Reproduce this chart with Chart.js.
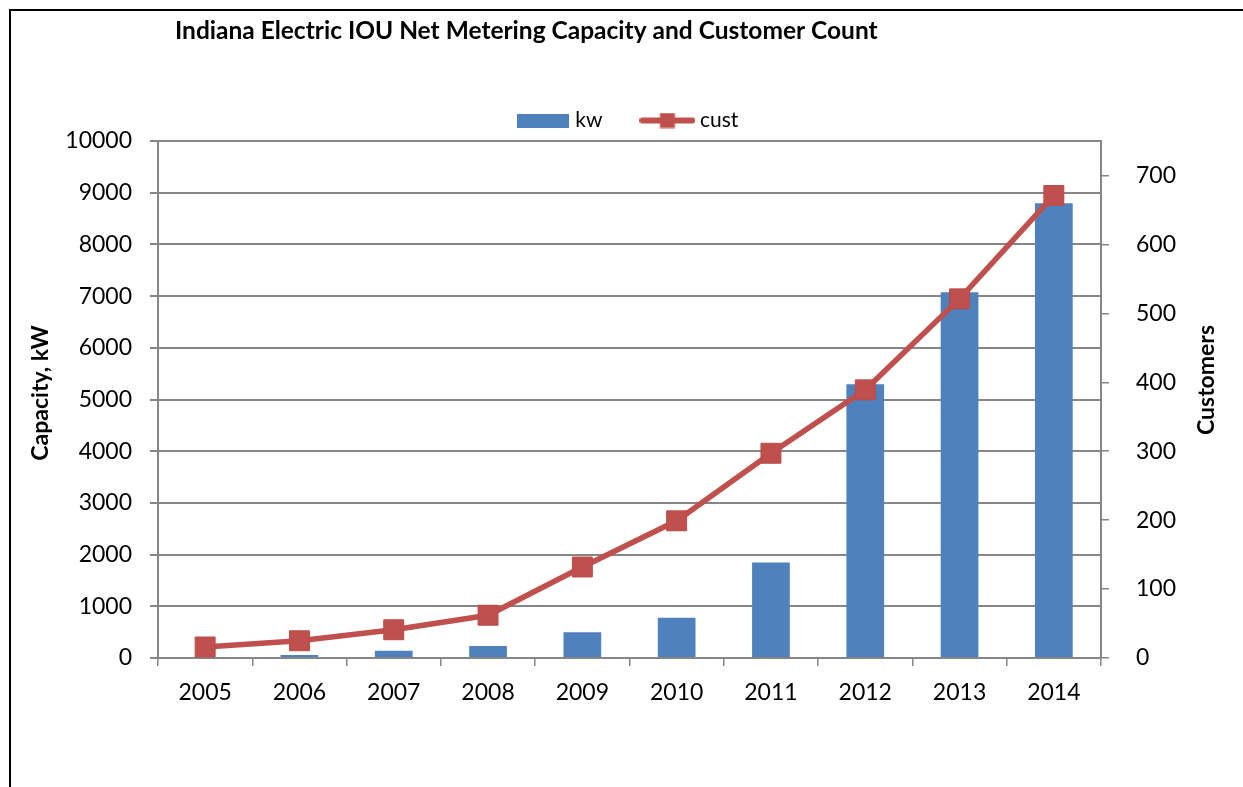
<!DOCTYPE html>
<html>
<head>
<meta charset="utf-8">
<script src="https://cdn.jsdelivr.net/npm/chart.js@4/dist/chart.umd.min.js"></script>
<style>
  html, body { margin: 0; padding: 0; background: #ffffff; overflow: hidden; }
  #wrap { position: relative; width: 1243px; height: 787px; }
  #frame { position: absolute; left: 9px; top: 9px; width: 1300px; height: 900px;
           border-left: 2px solid #000; border-top: 2px solid #000; pointer-events: none; }
  canvas { position: absolute; left: 0; top: 0; }
</style>
</head>
<body>
<div id="wrap">
  <canvas id="c" width="1243" height="787"></canvas>
  <div id="frame"></div>
</div>
<script>
// ---- data ----
const categories = ['2005', '2006', '2007', '2008', '2009', '2010', '2011', '2012', '2013', '2014'];
const kwValues = [20, 60, 140, 230, 500, 780, 1845, 5295, 7075, 8795];
const custValues = [16, 25, 41, 62, 132, 199, 297, 389, 521, 671];
const leftTicks = [0, 1000, 2000, 3000, 4000, 5000, 6000, 7000, 8000, 9000, 10000];
const rightTicks = [0, 100, 200, 300, 400, 500, 600, 700];
const seriesNames = ['kw', 'cust'];
const chartTitle = 'Indiana Electric IOU Net Metering Capacity and Customer Count';
const leftAxisTitle = 'Capacity, kW';
const rightAxisTitle = 'Customers';

const BLUE = '#4F81BD';
const RED = '#C0504D';
const GRID = '#868686';
const FONT = 'Lato';

// legend images
function makeKwImg() {
  const c = document.createElement('canvas');
  c.width = 52; c.height = 14;
  const g = c.getContext('2d');
  g.fillStyle = BLUE; g.fillRect(0, 0, 52, 14);
  return c;
}
function makeCustImg() {
  const c = document.createElement('canvas');
  c.width = 56; c.height = 16;
  const g = c.getContext('2d');
  g.strokeStyle = RED; g.lineWidth = 6; g.lineCap = 'round';
  g.beginPath(); g.moveTo(3, 8); g.lineTo(53, 8); g.stroke();
  g.fillStyle = RED; g.fillRect(20.5, 0.5, 15, 15);
  return c;
}
const kwImg = makeKwImg();
const custImg = makeCustImg();

const textPlugin = {
  id: 'textPlugin',
  afterDraw(chart) {
    const ctx = chart.ctx;
    ctx.save();
    ctx.fillStyle = '#000';
    ctx.textBaseline = 'middle';
    ctx.textAlign = 'left';
    ctx.font = 'bold 24.5px ' + FONT;
    ctx.fillText(chartTitle, 175, 31);
    ctx.font = 'bold 23px ' + FONT;
    ctx.textAlign = 'center';
    ctx.save();
    ctx.translate(41, 393);
    ctx.rotate(-Math.PI / 2);
    ctx.fillText(leftAxisTitle, 0, 0);
    ctx.restore();
    ctx.save();
    ctx.translate(1207, 380);
    ctx.rotate(-Math.PI / 2);
    ctx.fillText(rightAxisTitle, 0, 0);
    ctx.restore();
    ctx.restore();
  }
};

new Chart(document.getElementById('c'), {
  data: {
    labels: categories,
    datasets: [
      {
        type: 'line',
        label: seriesNames[1],
        data: custValues,
        yAxisID: 'y1',
        borderColor: RED,
        borderWidth: 5.5,
        pointStyle: 'rect',
        pointRadius: 14.1,
        pointBackgroundColor: RED,
        pointBorderColor: '#BB4B48',
        pointBorderWidth: 1,
        tension: 0,
        order: 0
      },
      {
        type: 'bar',
        label: seriesNames[0],
        data: kwValues,
        yAxisID: 'y',
        backgroundColor: BLUE,
        borderWidth: 0,
        barPercentage: 0.4,
        categoryPercentage: 1.0,
        order: 1
      }
    ]
  },
  options: {
    responsive: false,
    animation: false,
    devicePixelRatio: 1,
    layout: { padding: { top: 67, left: 0, right: 0, bottom: 0 } },
    plugins: {
      title: { display: false },
      tooltip: { enabled: false },
      legend: {
        display: true,
        position: 'top',
        fullSize: false,
        labels: {
          usePointStyle: true,
          pointStyleWidth: 44,
          padding: 43,
          color: '#000',
          font: { family: FONT, size: 21 },
          generateLabels() {
            return [
              { text: seriesNames[0], pointStyle: kwImg, fillStyle: BLUE, strokeStyle: BLUE, lineWidth: 0, hidden: false, datasetIndex: 1, fontColor: '#000' },
              { text: seriesNames[1], pointStyle: custImg, fillStyle: RED, strokeStyle: RED, lineWidth: 0, hidden: false, datasetIndex: 0, fontColor: '#000' }
            ];
          }
        }
      }
    },
    scales: {
      x: {
        type: 'category',
        offset: true,
        afterFit(s) { s.height = 129; },
        grid: { display: true, drawOnChartArea: false, drawTicks: true, tickLength: 8, color: GRID, lineWidth: 1.5, offset: true },
        border: { display: true, color: GRID, width: 2 },
        ticks: { color: '#000', font: { family: FONT, size: 23 }, padding: 13, maxRotation: 0 }
      },
      y: {
        type: 'linear',
        position: 'left',
        min: 0,
        max: 10000,
        afterFit(s) { s.width = 158; },
        afterBuildTicks(s) { s.ticks = leftTicks.map(v => ({ value: v })); },
        grid: { display: true, drawOnChartArea: true, drawTicks: true, tickLength: 8, color: GRID, lineWidth: 2 },
        border: { display: true, color: GRID, width: 2 },
        ticks: { color: '#000', font: { family: FONT, size: 23 }, padding: 18, callback: v => String(v) }
      },
      y1: {
        type: 'linear',
        position: 'right',
        min: 0,
        max: 750,
        afterFit(s) { s.width = 142; },
        afterBuildTicks(s) { s.ticks = rightTicks.map(v => ({ value: v })); },
        grid: { display: true, drawOnChartArea: false, drawTicks: true, tickLength: 8, color: GRID, lineWidth: 1.5 },
        border: { display: true, color: GRID, width: 2 },
        ticks: { color: '#000', font: { family: FONT, size: 23 }, padding: 27, crossAlign: 'near', callback: v => String(v) }
      }
    }
  },
  plugins: [textPlugin]
});
</script>
</body>
</html>
